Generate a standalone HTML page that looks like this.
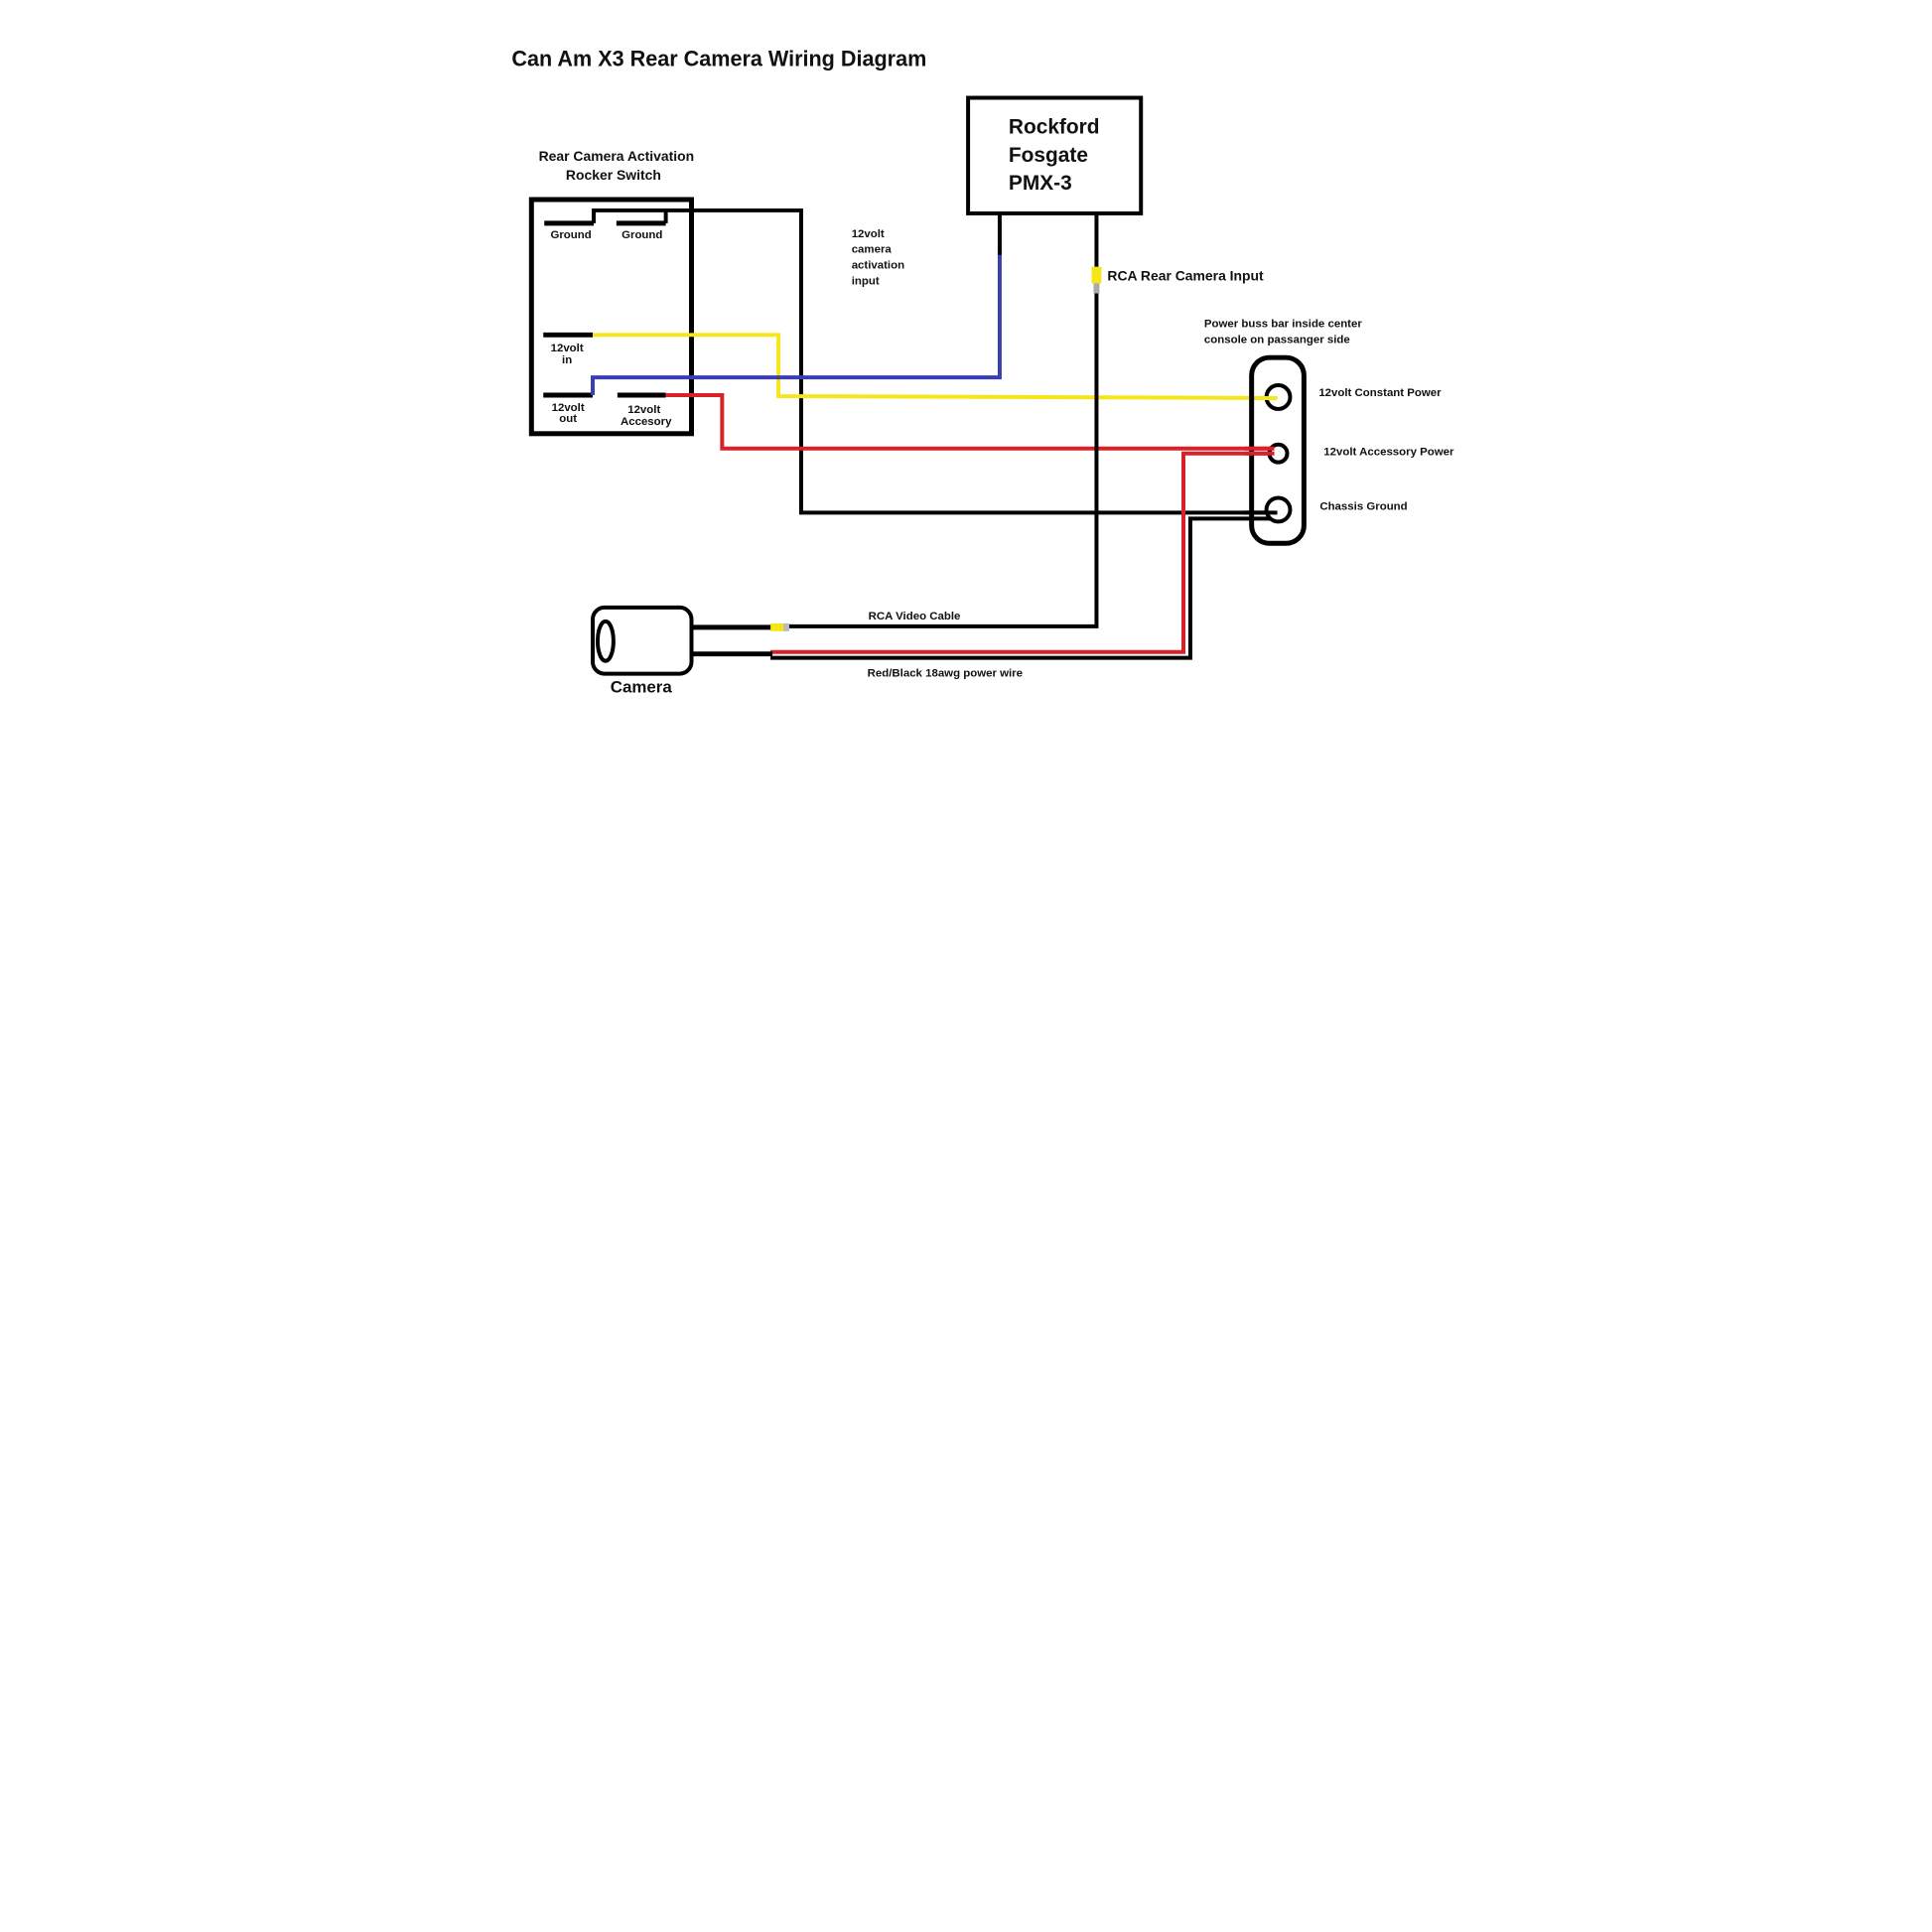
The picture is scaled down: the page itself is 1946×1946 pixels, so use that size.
<!DOCTYPE html>
<html><head><meta charset="utf-8"><style>
html,body{margin:0;padding:0;background:#fff}
svg{display:block}
text{font-family:"Liberation Sans",sans-serif;font-weight:bold;fill:#111}
</style></head><body>
<svg width="1946" height="1946" viewBox="0 0 1946 1946" xmlns="http://www.w3.org/2000/svg">
<rect width="1946" height="1946" fill="#fff"/>
<g transform="translate(0,0) scale(0.995)">
<text x="518" y="67" font-size="22" textLength="420" lengthAdjust="spacingAndGlyphs">Can Am X3 Rear Camera Wiring Diagram</text>

<text x="624" y="163" font-size="14" text-anchor="middle">Rear Camera Activation</text>
<text x="621" y="182" font-size="14" text-anchor="middle">Rocker Switch</text>
<rect x="538" y="202" width="162" height="237" fill="none" stroke="#000" stroke-width="5"/>
<g stroke="#000" stroke-width="5" stroke-linecap="butt">
<line x1="551" y1="226" x2="601" y2="226"/>
<line x1="624" y1="226" x2="674" y2="226"/>
<line x1="550" y1="339" x2="600" y2="339"/>
<line x1="550" y1="400" x2="600" y2="400"/>
<line x1="625" y1="400" x2="674" y2="400"/>
</g>
<g font-size="11.5" text-anchor="middle">
<text x="578" y="241">Ground</text>
<text x="650" y="241">Ground</text>
<text x="574" y="356">12volt</text>
<text x="574" y="368">in</text>
<text x="575" y="416">12volt</text>
<text x="575" y="427">out</text>
<text x="652" y="418">12volt</text>
<text x="654" y="430">Accesory</text>
</g>

<rect x="980" y="99" width="175" height="117" fill="none" stroke="#000" stroke-width="4"/>
<text x="1021" y="135" font-size="21">Rockford</text>
<text x="1021" y="164" font-size="21">Fosgate</text>
<text x="1021" y="192" font-size="21">PMX-3</text>

<polyline points="601,226 601,213 811,213 811,519 1293,519" fill="none" stroke="#000" stroke-width="4"/>
<polyline points="674,226 674,213" fill="none" stroke="#000" stroke-width="4"/>
<polyline points="600,339 788,339 788,401 1293,403" fill="none" stroke="#f5e61a" stroke-width="4"/>
<polyline points="600,400 600,382 1012,382 1012,256" fill="none" stroke="#3a3fb0" stroke-width="4"/>
<line x1="1012" y1="258" x2="1012" y2="216" stroke="#000" stroke-width="4"/>
<polyline points="674,400 731,400 731,454 1290,454" fill="none" stroke="#d8222a" stroke-width="4"/>
<polyline points="1110,216 1110,634 798,634" fill="none" stroke="#000" stroke-width="4"/>
<rect x="1105" y="270" width="10" height="17" fill="#f5e61a"/>
<rect x="1107" y="287" width="6" height="10" fill="#aaa"/>
<text x="1121" y="284" font-size="14">RCA Rear Camera Input</text>
<polyline points="1293,459 1198,459 1198,660 780,660" fill="none" stroke="#d8222a" stroke-width="4"/>
<polyline points="1293,525 1205,525 1205,666 780,666" fill="none" stroke="#000" stroke-width="4"/>

<g font-size="11.5">
<text x="862" y="240">12volt</text>
<text x="862" y="256">camera</text>
<text x="862" y="272">activation</text>
<text x="862" y="288">input</text>
<text x="1219" y="331">Power buss bar inside center</text>
<text x="1219" y="347">console on passanger side</text>
<text x="1335" y="401">12volt Constant Power</text>
<text x="1340" y="461">12volt Accessory Power</text>
<text x="1336" y="516">Chassis Ground</text>
<text x="879" y="627">RCA Video Cable</text>
<text x="878" y="685">Red/Black 18awg power wire</text>
</g>

<rect x="1267" y="362" width="53" height="188" rx="18" fill="none" stroke="#000" stroke-width="5"/>
<circle cx="1294" cy="402" r="12" fill="#fff" stroke="#000" stroke-width="4"/>
<circle cx="1294" cy="459" r="9" fill="#fff" stroke="#000" stroke-width="4"/>
<circle cx="1294" cy="516" r="12" fill="#fff" stroke="#000" stroke-width="4"/>
<line x1="1270" y1="403" x2="1293" y2="403" stroke="#f5e61a" stroke-width="4"/>
<line x1="1260" y1="454" x2="1290" y2="454" stroke="#d8222a" stroke-width="4"/>
<line x1="1260" y1="459" x2="1290" y2="459" stroke="#d8222a" stroke-width="4"/>
<line x1="1260" y1="519" x2="1293" y2="519" stroke="#000" stroke-width="4"/>

<rect x="600" y="615" width="100" height="67" rx="12" fill="#fff" stroke="#000" stroke-width="4"/>
<ellipse cx="613" cy="649" rx="8" ry="20" fill="none" stroke="#000" stroke-width="4"/>
<line x1="700" y1="635" x2="782" y2="635" stroke="#000" stroke-width="5"/>
<line x1="700" y1="662" x2="782" y2="662" stroke="#000" stroke-width="5"/>
<rect x="780" y="631" width="13" height="8" fill="#f5e61a"/>
<rect x="793" y="631" width="6" height="8" fill="#bbb"/>
<text x="649" y="701" font-size="17" text-anchor="middle">Camera</text>
</g>
</svg>
</body></html>
